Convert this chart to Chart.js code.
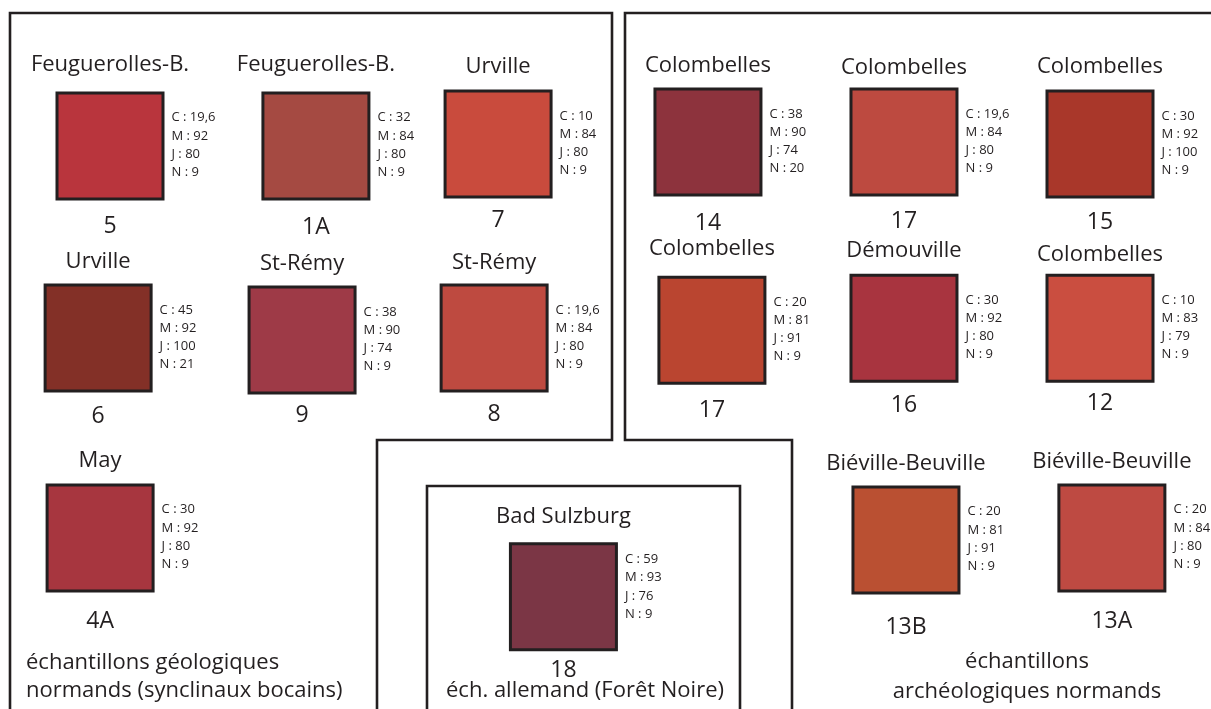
<!DOCTYPE html>
<html lang="fr">
<head>
<meta charset="utf-8">
<title>Échantillons – couleurs CMJN</title>
<script src="https://cdn.jsdelivr.net/npm/chart.js@4.4.1/dist/chart.umd.min.js"></script>
<style>
  html, body { margin: 0; padding: 0; background: #fff; overflow: hidden; }
  canvas { display: block; }
</style>
</head>
<body>
<canvas id="swatches" width="1211" height="709"></canvas>
<script>
/////////////////// data ///////////////////
const sampleNo = ['5', '1A', '7', '6', '9', '8', '4A', '18', '14', '17', '15', '17', '16', '12', '13B', '13A'];
const site = ['Feuguerolles-B.', 'Feuguerolles-B.', 'Urville', 'Urville', 'St-Rémy', 'St-Rémy', 'May',
  'Bad Sulzburg', 'Colombelles', 'Colombelles', 'Colombelles', 'Colombelles', 'Démouville', 'Colombelles',
  'Biéville-Beuville', 'Biéville-Beuville'];
const cyan    = [19.6, 32, 10, 45, 38, 19.6, 30, 59, 38, 19.6, 30, 20, 30, 10, 20, 20];
const magenta = [92, 84, 84, 92, 90, 84, 92, 93, 90, 84, 92, 81, 92, 83, 81, 84];
const jaune   = [80, 80, 80, 100, 74, 80, 80, 76, 74, 80, 100, 91, 80, 79, 91, 80];
const noir    = [9, 9, 9, 21, 9, 9, 9, 9, 20, 9, 9, 9, 9, 9, 9, 9];
// colour of each swatch as printed
const swatchColor = ['#b9353d', '#a54a42', '#c94b3d', '#833027', '#9e3a47', '#be4a40', '#a7363f', '#7b3645',
  '#8d333d', '#bd4a40', '#a9372a', '#ba4530', '#a8343f', '#ca4e40', '#ba5032', '#be4a42'];

/////////////////// layout (grid slot of each swatch) ///////////////////
const slotCol = [0, 1.04, 1.96, -0.06, 0.97, 1.94, -0.05, 2.29, 3.02, 4.01, 5.0, 3.04, 4.01, 5.0, 4.02, 5.06];
const slotRow = [0.01, 0.01, 0, 0.99, 1.0, 0.99, 2.01, 2.31, -0.01, -0.01, 0, 0.95, 0.94, 0.94, 2.02, 2.01];
const titleDy = [-75, -75, -71, -70, -70, -69, -71, -74, -70, -68, -71, -75, -71, -67, -70, -70];
const numDy   = [87, 88, 83, 85, 82, 83, 90, 80, 88, 86, 85, 87, 84, 82, 94, 90];
const cmykDy  = [0, 0, 0, 0, 0, 0, 0, -9, 0, 0, 0, 0, 0, 0, 0, 0];

const W = 1211, H = 709;
const COL_W = 198, X0 = 110;   // px per grid column, px of column 0
const ROW_H = 196, Y0 = 144;   // px per grid row, px of row 0
const SIDE = 106, EDGE = 3;    // swatch side and outline
const INK = '#231f20';
const FONT = '"Open Sans", "Noto Sans", sans-serif';

// panel outlines (px)
const FRAMES = [
  [[10, 712], [10, 13], [612, 13], [612, 440], [377, 440], [377, 712]],
  [[1215, 13], [625, 13], [625, 440], [792, 440], [792, 712]],
  [[427, 712], [427, 486], [740, 486], [740, 712]]
];
const FOOTERS = [
  { lines: ['échantillons géologiques', 'normands (synclinaux bocains)'], x: 26, y: [669, 697], align: 'left' },
  { lines: ['éch. allemand (Forêt Noire)'], x: 585, y: [697], align: 'center' },
  { lines: ['échantillons', 'archéologiques normands'], x: 1027, y: [668, 698], align: 'center' }
];

const fmt = v => v.toLocaleString('fr-FR');

const framePlugin = {
  id: 'frames',
  beforeDatasetsDraw(chart) {
    const c = chart.ctx;
    c.save();
    c.strokeStyle = INK;
    c.lineWidth = 2.6;
    FRAMES.forEach(f => {
      c.beginPath();
      f.forEach(([x, y], i) => i ? c.lineTo(x, y) : c.moveTo(x, y));
      c.stroke();
    });
    c.fillStyle = '#231f20';
    c.font = '22px ' + FONT;
    c.textBaseline = 'alphabetic';
    FOOTERS.forEach(ft => {
      c.textAlign = ft.align;
      ft.lines.forEach((t, k) => c.fillText(t, ft.x, ft.y[k]));
    });
    c.restore();
  }
};

const labelPlugin = {
  id: 'swatchLabels',
  afterDatasetsDraw(chart) {
    const c = chart.ctx;
    const meta = chart.getDatasetMeta(0);
    c.save();
    c.fillStyle = '#231f20';
    c.textBaseline = 'alphabetic';
    meta.data.forEach((pt, i) => {
      const half = SIDE / 2 + EDGE / 2;
      c.textAlign = 'center';
      c.font = '22px ' + FONT;
      c.fillText(site[i], pt.x, pt.y + titleDy[i]);
      c.font = '23px ' + FONT;
      c.fillText(sampleNo[i], pt.x, pt.y + numDy[i]);
      c.textAlign = 'left';
      c.font = '13px ' + FONT;
      const rows = ['C : ' + fmt(cyan[i]), 'M : ' + fmt(magenta[i]), 'J : ' + fmt(jaune[i]), 'N : ' + fmt(noir[i])];
      rows.forEach((t, k) => c.fillText(t, pt.x + half + 7, pt.y - 24.5 + 18.2 * k + cmykDy[i]));
    });
    c.restore();
  }
};

const points = sampleNo.map((n, i) => ({ x: slotCol[i], y: slotRow[i] }));
const radius = SIDE / 2 / Math.SQRT1_2;

new Chart(document.getElementById('swatches').getContext('2d'), {
  type: 'scatter',
  data: {
    datasets: [{
      label: 'CMJN',
      data: points,
      pointStyle: 'rect',
      pointRadius: radius,
      pointHoverRadius: radius,
      pointBackgroundColor: swatchColor,
      pointBorderColor: INK,
      pointBorderWidth: EDGE,
      pointHoverBorderWidth: EDGE,
      clip: false
    }]
  },
  options: {
    responsive: false,
    animation: false,
    events: [],
    layout: { padding: 0, autoPadding: false },
    plugins: { legend: { display: false }, tooltip: { enabled: false } },
    scales: {
      x: { type: 'linear', display: false, min: -X0 / COL_W, max: (W - X0) / COL_W },
      y: { type: 'linear', display: false, reverse: true, min: -Y0 / ROW_H, max: (H - Y0) / ROW_H }
    }
  },
  plugins: [framePlugin, labelPlugin]
});
</script>
</body>
</html>
